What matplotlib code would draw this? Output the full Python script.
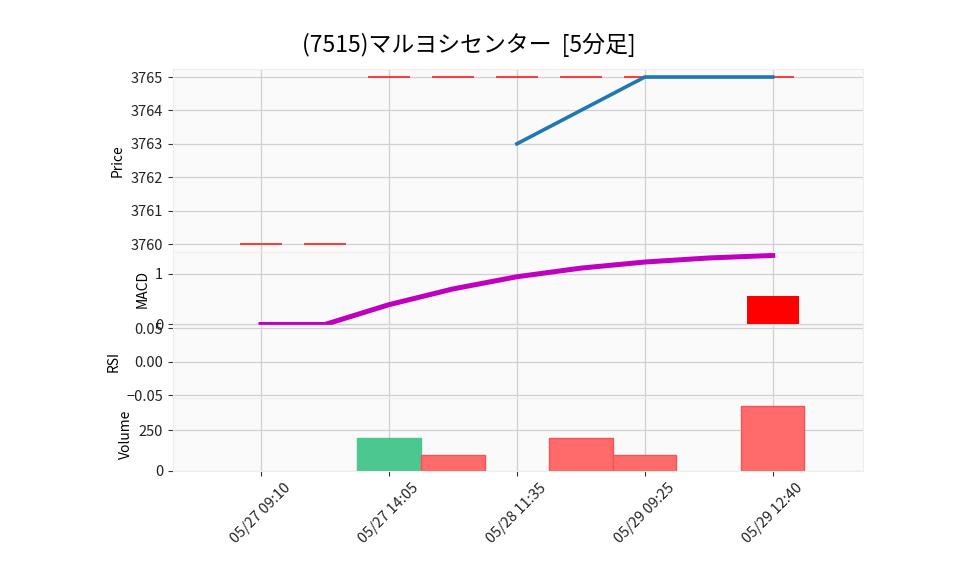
import numpy as np
import matplotlib
matplotlib.use('Agg')
import matplotlib.pyplot as plt

plt.rcParams['font.family'] = ['Noto Sans CJK JP', 'DejaVu Sans']
plt.rcParams['axes.unicode_minus'] = True

title = '(7515)マルヨシセンター  [5分足]'

# 5 minute bars, index 0..8
opens  = [3760, 3760, 3765, 3765, 3765, 3765, 3765, 3765, 3765]
highs  = [3760, 3760, 3765, 3765, 3765, 3765, 3765, 3765, 3765]
lows   = [3760, 3760, 3765, 3765, 3765, 3765, 3765, 3765, 3765]
closes = [3760, 3760, 3765, 3765, 3765, 3765, 3765, 3765, 3765]
volume = [0, 0, 200, 100, 0, 200, 100, 0, 400]

ma5 = [np.nan, np.nan, np.nan, np.nan, 3763, 3764, 3765, 3765, 3765]
macd = [0, 0, 0.39, 0.70, 0.94, 1.11, 1.23, 1.31, 1.36]
macd_hist = [np.nan, np.nan, np.nan, np.nan, np.nan, np.nan, np.nan, np.nan, 0.56]
rsi = [np.nan] * 9

tick_idx = [0, 2, 4, 6, 8]
tick_labels = ['05/27 09:10', '05/27 14:05', '05/28 11:35', '05/29 09:25', '05/29 12:40']

x = np.arange(len(closes))

fig = plt.figure(figsize=(9.58, 5.75), dpi=100)

left, width = 0.1803, 0.7205
ax_p = fig.add_axes([left, 0.5617, width, 0.3183])
ax_m = fig.add_axes([left, 0.4348, width, 0.1269], sharex=ax_p)
ax_r = fig.add_axes([left, 0.3070, width, 0.1278], sharex=ax_p)
ax_v = fig.add_axes([left, 0.1809, width, 0.1261], sharex=ax_p)

for ax in (ax_p, ax_m, ax_r, ax_v):
    ax.set_facecolor('#fafafa')
    ax.grid(True, color='#d0d0d0', linewidth=0.9)
    ax.set_axisbelow(True)
    for s in ax.spines.values():
        s.set_color('#eeeeee')
    ax.tick_params(axis='y', labelsize=10.5, length=3.5, color='#333333', labelcolor='#222222')
    ax.tick_params(axis='x', length=3.5, color='#333333', labelcolor='#222222')

# price: candles (all doji here) + ma
o = np.array(opens); c = np.array(closes)
ax_p.vlines(x, lows, highs, color='#ff3333', linewidth=1)
ax_p.hlines(o, x - 0.33, x + 0.33, color='#ff3838', linewidth=1.2)
ax_p.hlines(c, x - 0.33, x + 0.33, color='#ff3838', linewidth=1.2)
ax_p.plot(x, ma5, color='#1f77b4', linewidth=2.6)
ax_p.set_ylim(3759.76, 3765.24)
ax_p.set_ylabel('Price', fontsize=10)

# macd
ax_m.plot(x, macd, color='#bf00bf', linewidth=3.6)
ax_m.bar(x, macd_hist, width=0.81, color='#ff0000')
ax_m.set_ylim(-0.01, 1.427)
ax_m.set_yticks([0, 1])
ax_m.set_ylabel('MACD', fontsize=10)

# rsi (no data)
ax_r.plot(x, rsi, color='#1f77b4')
ax_r.set_ylim(-0.055, 0.055)
ax_r.set_yticks([-0.05, 0.0, 0.05])
ax_r.set_ylabel('RSI', fontsize=10)

# volume, green when close rose
for i in range(len(closes)):
    if volume[i] == 0:
        continue
    up = i > 0 and closes[i] > closes[i - 1]
    fc = '#4cc790' if up else '#ff6b6b'
    ec = '#4cc790' if up else '#f05555'
    ax_v.bar(x[i], volume[i], width=0.99, color=fc, edgecolor=ec, linewidth=1)
ax_v.set_ylim(0, 443)
ax_v.set_yticks([0, 250])
ax_v.set_ylabel('Volume', fontsize=10)

ax_p.set_xlim(-1.38, 9.41)
ax_v.set_xticks(tick_idx)
ax_v.set_xticklabels(tick_labels, rotation=45, fontsize=10.5)
for ax in (ax_p, ax_m, ax_r):
    ax.tick_params(axis='x', labelbottom=False, length=0)

fig.text(0.489, 0.922, title, fontsize=16.5, ha='center', va='center')

fig.savefig('out.png', dpi=100)
